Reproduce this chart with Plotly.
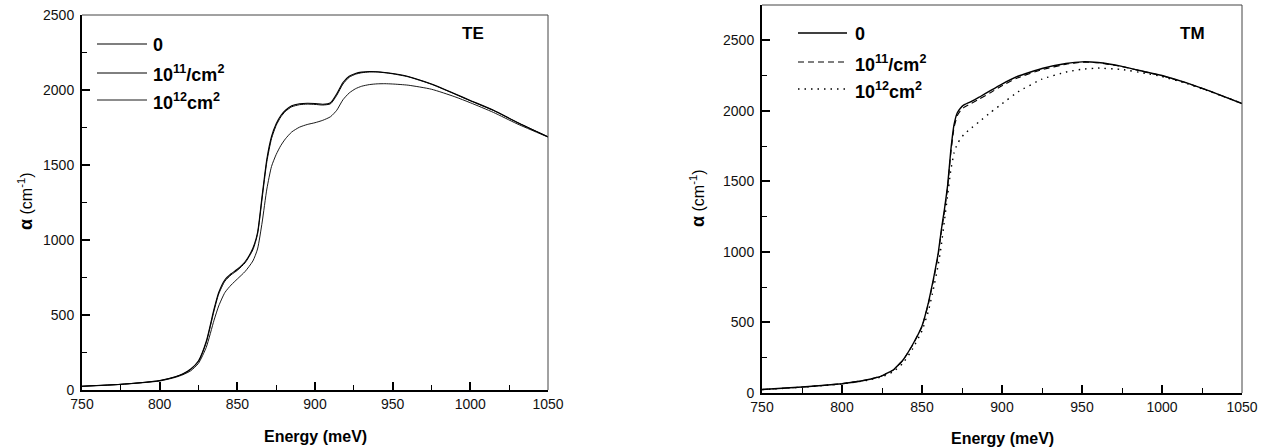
import plotly.graph_objects as go

# ---- TE polarisation: absorption vs photon energy ----
energy_te = [750, 775, 800, 810, 815, 820, 825, 830, 835, 838, 842, 846, 850, 855, 860,
             863, 866, 869, 872, 875, 878, 881, 885, 890, 895, 900, 905, 910, 914, 918,
             922, 926, 930, 935, 940, 945, 950, 960, 975, 990, 1000, 1015, 1030, 1050]
te_n0 = [25, 38, 63, 88, 108, 140, 195, 325, 540, 650, 735, 775, 805, 855, 945,
         1050, 1300, 1540, 1690, 1775, 1830, 1865, 1895, 1908, 1912, 1910, 1905, 1915, 1975, 2050,
         2092, 2110, 2119, 2123, 2122, 2117, 2110, 2090, 2040, 1975, 1930, 1865, 1785, 1688]
te_n11 = [25, 38, 62, 87, 106, 137, 190, 316, 528, 640, 726, 768, 798, 848, 935,
          1038, 1280, 1522, 1676, 1764, 1821, 1858, 1888, 1902, 1906, 1904, 1900, 1908, 1965, 2040,
          2085, 2105, 2115, 2120, 2120, 2115, 2108, 2088, 2038, 1973, 1928, 1863, 1784, 1688]
te_n12 = [24, 37, 60, 84, 102, 128, 178, 285, 465, 560, 650, 700, 740, 790, 860,
          940, 1120, 1340, 1490, 1570, 1630, 1675, 1720, 1752, 1770, 1782, 1798, 1822, 1865, 1935,
          1980, 2008, 2025, 2036, 2041, 2042, 2040, 2032, 2005, 1955, 1915, 1850, 1775, 1686]

# ---- TM polarisation ----
energy_tm = [750, 775, 800, 815, 825, 832, 838, 844, 850, 854, 857, 860, 862, 864, 866,
             868, 870, 872, 874, 876, 880, 886, 893, 900, 910, 925, 940, 950, 960, 975,
             990, 1000, 1015, 1030, 1050]
tm_n0 = [25, 42, 66, 92, 122, 163, 232, 340, 475, 640, 800, 980, 1150, 1300, 1470,
         1720, 1900, 1985, 2018, 2040, 2062, 2098, 2145, 2190, 2245, 2300, 2335, 2347, 2342, 2315,
         2275, 2250, 2200, 2140, 2052]
tm_n11 = [25, 42, 66, 92, 122, 162, 230, 337, 470, 632, 790, 968, 1135, 1285, 1455,
          1700, 1880, 1965, 2000, 2022, 2048, 2085, 2130, 2178, 2235, 2292, 2330, 2345, 2341, 2314,
          2274, 2249, 2199, 2139, 2052]
tm_n12 = [24, 41, 64, 88, 115, 150, 210, 310, 440, 580, 730, 900, 1040, 1220, 1400,
          1580, 1700, 1765, 1800, 1830, 1870, 1925, 1990, 2050, 2135, 2225, 2275, 2295, 2303, 2293,
          2265, 2243, 2195, 2137, 2052]

x_ticks = [750, 800, 850, 900, 950, 1000, 1050]
te_y_ticks = [0, 500, 1000, 1500, 2000, 2500]
tm_y_ticks = [0, 500, 1000, 1500, 2000, 2500]

legend_labels = ["<b>0</b>", "<b>10<sup>11</sup>/cm<sup>2</sup></b>", "<b>10<sup>12</sup>cm<sup>2</sup></b>"]

W, H = 1264, 448
FONT = "Liberation Sans, Arial, sans-serif"


def px(x):
    return x / W


def py(y):
    return 1 - y / H


fig = go.Figure()

# TE traces
for ys, w in [(te_n0, 1.1), (te_n11, 1.0), (te_n12, 0.9)]:
    fig.add_trace(go.Scatter(x=energy_te, y=ys, mode="lines", xaxis="x", yaxis="y",
                             line=dict(color="black", width=w, shape="spline", smoothing=0.6),
                             showlegend=False, hoverinfo="skip"))

# TM traces
TM_DASH = ["solid", "6px,4px", "1.5px,5px"]
TM_W = [1.4, 1.1, 1.4]
for ys, dash, w in zip([tm_n0, tm_n11, tm_n12], TM_DASH, TM_W):
    fig.add_trace(go.Scatter(x=energy_tm, y=ys, mode="lines", xaxis="x2", yaxis="y2",
                             line=dict(color="black", width=w, dash=dash, shape="spline", smoothing=0.3),
                             showlegend=False, hoverinfo="skip"))

tickfont = dict(family=FONT, size=14, color="#111")


def xaxis_cfg(dom, anchor):
    return dict(domain=dom, anchor=anchor, range=[750, 1050], tickvals=x_ticks,
                ticks="inside", ticklen=8, tickwidth=1.5, tickcolor="black",
                minor=dict(ticks="inside", ticklen=5, tickwidth=1.2, tickcolor="black",
                           tick0=750, dtick=25),
                showline=True, linewidth=2, linecolor="black", mirror=False,
                showgrid=False, zeroline=False, tickfont=tickfont, automargin=False)


def yaxis_cfg(dom, anchor, rng, tv):
    return dict(domain=dom, anchor=anchor, range=rng, tickvals=tv,
                ticks="inside", ticklen=8, tickwidth=1.5, tickcolor="black",
                minor=dict(ticks="inside", ticklen=5, tickwidth=1.2, tickcolor="black",
                           tick0=0, dtick=250),
                showline=True, linewidth=2, linecolor="black", mirror=False,
                showgrid=False, zeroline=False, tickfont=tickfont, ticklabelstandoff=3,
                automargin=False)


L = dict(x0=82, x1=548, y_top=15, y_bot=390)
R = dict(x0=762, x1=1242, y_top=5, y_bot=393)

fig.update_layout(
    width=W, height=H, margin=dict(l=0, r=0, t=0, b=0, autoexpand=False),
    paper_bgcolor="white", plot_bgcolor="white", showlegend=False,
    xaxis=xaxis_cfg([px(L["x0"]), px(L["x1"])], "y"),
    yaxis=yaxis_cfg([py(L["y_bot"]), py(L["y_top"])], "x", [0, 2500], te_y_ticks),
    xaxis2=xaxis_cfg([px(R["x0"]), px(R["x1"])], "y2"),
    yaxis2=yaxis_cfg([py(R["y_bot"]), py(R["y_top"])], "x2", [0, 2750], tm_y_ticks),
)

shapes = []
annotations = []
# thin top/right frame lines
for P in (L, R):
    shapes.append(dict(type="line", xref="paper", yref="paper",
                       x0=px(P["x0"]), x1=px(P["x1"]), y0=py(P["y_top"]), y1=py(P["y_top"]),
                       line=dict(color="#444", width=1)))
    shapes.append(dict(type="line", xref="paper", yref="paper",
                       x0=px(P["x1"]), x1=px(P["x1"]), y0=py(P["y_top"]), y1=py(P["y_bot"]),
                       line=dict(color="#444", width=1)))

# hand-placed legends
te_rows = [44, 73, 100]
tm_rows = [33, 62, 89]
for i, lab in enumerate(legend_labels):
    shapes.append(dict(type="line", xref="paper", yref="paper",
                       x0=px(97), x1=px(147), y0=py(te_rows[i]), y1=py(te_rows[i]),
                       line=dict(color="black", width=[1.1, 1.0, 0.9][i])))
    annotations.append(dict(x=px(151), y=py(te_rows[i] + 1), xref="paper", yref="paper",
                            text=lab, showarrow=False, xanchor="left", yanchor="middle",
                            font=dict(family=FONT, size=18, color="black")))
    shapes.append(dict(type="line", xref="paper", yref="paper",
                       x0=px(798), x1=px(847), y0=py(tm_rows[i]), y1=py(tm_rows[i]),
                       line=dict(color="black", width=TM_W[i], dash=TM_DASH[i])))
    annotations.append(dict(x=px(853), y=py(tm_rows[i] + 1), xref="paper", yref="paper",
                            text=lab, showarrow=False, xanchor="left", yanchor="middle",
                            font=dict(family=FONT, size=18, color="black")))

# panel tags
annotations.append(dict(x=px(473), y=py(34), xref="paper", yref="paper", text="<b>TE</b>",
                        showarrow=False, xanchor="center", yanchor="middle",
                        font=dict(family=FONT, size=17, color="black")))
annotations.append(dict(x=px(1192), y=py(33), xref="paper", yref="paper", text="<b>TM</b>",
                        showarrow=False, xanchor="center", yanchor="middle",
                        font=dict(family=FONT, size=17, color="black")))

# axis titles
for cx, cy in [(315, 436), (1002, 438)]:
    annotations.append(dict(x=px(cx), y=py(cy), xref="paper", yref="paper",
                            text="<b>Energy (meV)</b>", showarrow=False,
                            xanchor="center", yanchor="middle",
                            font=dict(family=FONT, size=16, color="black")))
for cx, cy in [(25, 202), (697, 199)]:
    annotations.append(dict(x=px(cx), y=py(cy), xref="paper", yref="paper",
                            text="<b><span style='font-size:18px'>α</span></b> (cm<sup>-1</sup>)",
                            showarrow=False, textangle=-90, xanchor="center", yanchor="middle",
                            font=dict(family=FONT, size=16, color="black")))

fig.update_layout(shapes=shapes, annotations=annotations)
fig.write_html("out.html")
